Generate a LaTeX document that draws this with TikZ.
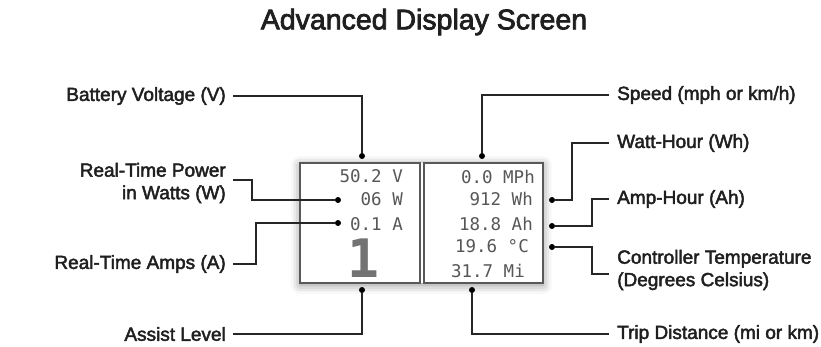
\documentclass[tikz,border=0pt]{standalone}
\usepackage{fontspec}
\setmainfont{Liberation Sans}
\newfontfamily\labfont{Liberation Sans}
\newfontfamily\lcdfont{DejaVu Sans Mono}
\newcommand\medtxt[1]{\special{pdf:literal 2 Tr 0.45 w}#1\special{pdf:literal 0 Tr}}
\newcommand\medtitle[1]{\special{pdf:literal 2 Tr 0.75 w}#1\special{pdf:literal 0 Tr}}
\usetikzlibrary{shadows.blur}
\begin{document}
\begin{tikzpicture}[x=1pt,y=-1pt,
  lab/.style={font=\labfont\fontsize{19}{22.5}\selectfont, inner sep=0pt, text=black!88},
  lcd/.style={font=\lcdfont\fontsize{17.5}{20}\selectfont, text=black!66, inner sep=0pt},
  dotnode/.style={circle, fill=black, inner sep=0pt, minimum size=6pt},
  conn/.style={line width=1.1pt, black!85},
  lcdframe/.style={draw=black!65, line width=2.2pt, fill=white, minimum width=120pt, minimum height=120pt, inner sep=0pt}]
\useasboundingbox (0,0) rectangle (821,346);

\node[font=\labfont\fontsize{28.5}{30}\selectfont, text=black!88] (title) at (424,22) {\medtitle{Advanced Display Screen}};

% screen
\path[fill=white, blur shadow={shadow xshift=0pt, shadow yshift=-2pt, shadow blur radius=9pt, shadow opacity=45}] (300,163) rectangle (543,283);
\node[lcdframe] (lbox) at (360,223) {};
\node[lcdframe, minimum width=119pt] (rbox) at (483.5,223) {};

\node[lcd, anchor=base east] (tV) at (403,182) {50.2 V};
\node[lcd, anchor=base east] (tW) at (403,205) {06 W};
\node[lcd, anchor=base east] (tA) at (403,230) {0.1 A};
\node[lcd, font=\lcdfont\bfseries\fontsize{53}{55}\selectfont, text=black!55, anchor=base] (big) at (363,277) {1};

\node[lcd, anchor=base east] (tS) at (535,183) {0.0 MPh};
\node[lcd, anchor=base east] (tWh) at (533,205) {912 Wh};
\node[lcd, anchor=base east] (tAh) at (533,230) {18.8 Ah};
\node[lcd, anchor=base east] (tC) at (529,252) {19.6 °C};
\node[lcd, anchor=base east] (tT) at (525,277) {31.7 Mi};

% dots
\node[dotnode] (dV) at (362,156) {};
\node[dotnode] (dW) at (338,200) {};
\node[dotnode] (dA) at (338,223) {};
\node[dotnode] (dL) at (362,290) {};
\node[dotnode] (dS) at (482,156) {};
\node[dotnode] (dWh) at (552,200) {};
\node[dotnode] (dAh) at (552,226) {};
\node[dotnode] (dC) at (552,247) {};
\node[dotnode] (dT) at (472,290) {};

% labels
\node[lab, anchor=east] (bv) at (226,96) {\medtxt{Battery Voltage (V)}};
\node[lab, anchor=east, align=right] (rp) at (226,183) {\medtxt{Real-Time Power}\\\medtxt{in Watts (W)}};
\node[lab, anchor=east] (ra) at (226,264) {\medtxt{Real-Time Amps (A)}};
\node[lab, anchor=east] (al) at (226,334) {\medtxt{Assist Level}};

\node[lab, anchor=west] (sp) at (617,95) {\medtxt{Speed (mph or km/h)}};
\node[lab, anchor=west] (wh) at (617,143) {\medtxt{Watt-Hour (Wh)}};
\node[lab, anchor=west] (ah) at (617,199) {\medtxt{Amp-Hour (Ah)}};
\node[lab, anchor=west, align=left] (ct) at (617,270) {\medtxt{Controller Temperature}\\\medtxt{(Degrees Celsius)}};
\node[lab, anchor=west] (td) at (617,334) {\medtxt{Trip Distance (mi or km)}};

% connectors
\draw[conn] ([xshift=7pt]bv.east) -| (dV);
\draw[conn] ([xshift=7pt,yshift=3pt]rp.east) -- ++(19,0) |- (dW);
\draw[conn] ([xshift=7pt]ra.east) -- ++(23,0) |- (dA);
\draw[conn] ([xshift=7pt]al.east) -| (dL);
\draw[conn] (dS) |- ([xshift=-8pt]sp.west);
\draw[conn] (dWh) -- ++(20,0) |- ([xshift=-8pt]wh.west);
\draw[conn] (dAh) -- ++(40,0) |- ([xshift=-8pt]ah.west);
\draw[conn] (dC) -- ++(40,0) |- ([xshift=-8pt,yshift=-4pt]ct.west);
\draw[conn] (dT) |- ([xshift=-8pt]td.west);
\end{tikzpicture}
\end{document}
